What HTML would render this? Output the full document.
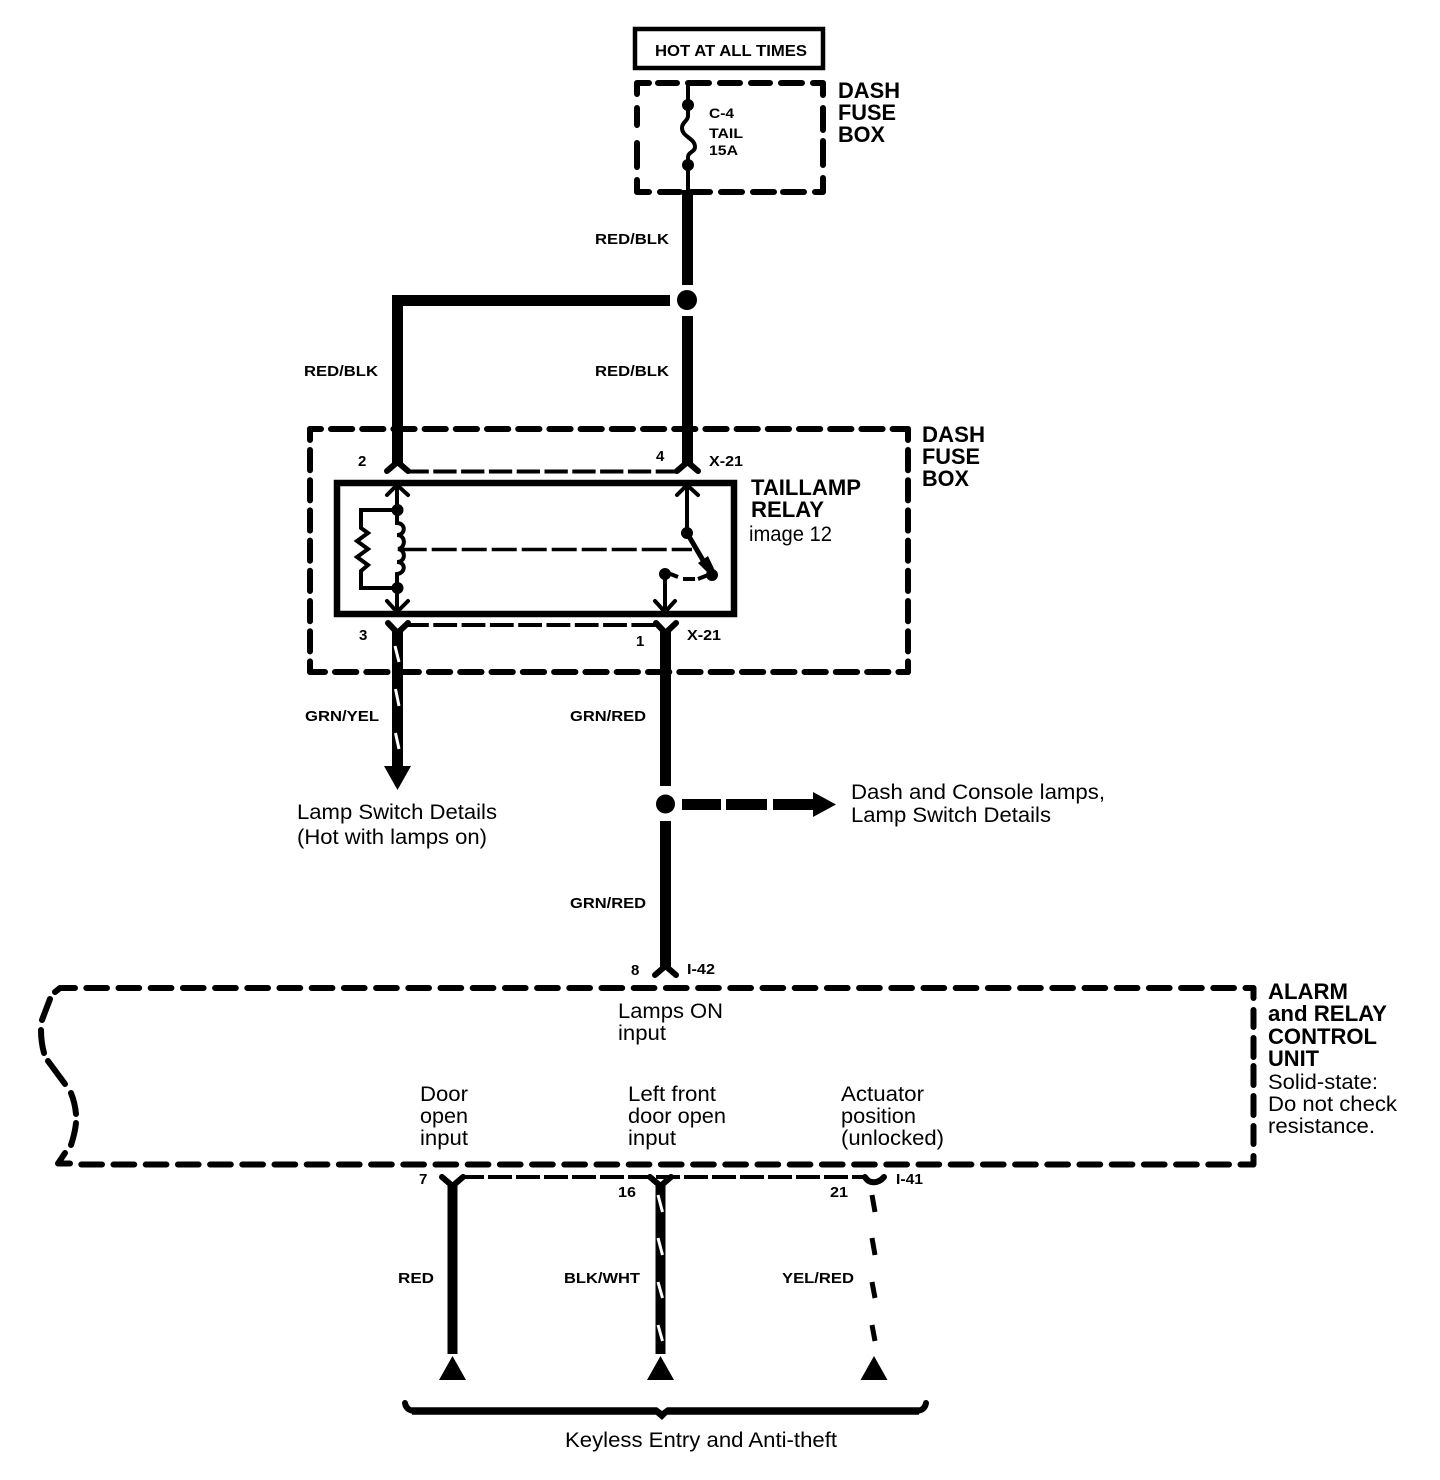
<!DOCTYPE html>
<html><head><meta charset="utf-8"><title>Taillamp relay diagram</title>
<style>
html,body{margin:0;padding:0;background:#fff}
svg{display:block}
text{font-family:"Liberation Sans",sans-serif;fill:#000}
.b{font-weight:bold}
.s{font-size:15px;font-weight:bold}
.t{font-size:22px;font-weight:bold}
.r{font-size:21px}
.seg{fill:none;stroke:#000;stroke-width:6;stroke-linecap:round;stroke-linejoin:round}
.thin{fill:none;stroke:#000;stroke-width:4}
.w{stroke:#000;stroke-width:11;fill:none}
.sl{stroke:#fff;stroke-width:3;fill:none}
.c{fill:none;stroke:#000;stroke-width:6;stroke-linecap:round;stroke-linejoin:miter}
.d{fill:none;stroke:#000;stroke-width:4}
</style></head><body>
<svg width="1440" height="1480" viewBox="0 0 1440 1480" xmlns="http://www.w3.org/2000/svg">
<rect width="1440" height="1480" fill="#fff"/>

<rect x="635" y="29" width="188" height="39" fill="none" stroke="#000" stroke-width="4.500"/>
<text class="b" font-size="16" x="655" y="56" textLength="152" lengthAdjust="spacingAndGlyphs">HOT AT ALL TIMES</text>

<path class="seg" d="M637 94V83H649M658 83H677M688 83H709M720 83H740M751 83H770M781 83H802M813 83H823V95"/>
<path class="seg" d="M637 180V192H649M660 192H680M691 192H710M721 192H742M753 192H774M783 192H804M815 192H823V178"/>
<path class="seg" d="M637 108V125M637 143V167M823 108V130M823 141V165"/>
<path class="thin" d="M688 84V116C688 121 682 122 682 128C682 137 695 138 695 147C695 152 688 152 688 157V192"/>
<circle cx="688" cy="105" r="6"/><circle cx="688" cy="165" r="6"/>
<text class="b" font-size="14" x="709" y="118" textLength="25" lengthAdjust="spacingAndGlyphs">C-4</text>
<text class="b" font-size="14" x="709" y="138" textLength="34" lengthAdjust="spacingAndGlyphs">TAIL</text>
<text class="b" font-size="14" x="709" y="155" textLength="29" lengthAdjust="spacingAndGlyphs">15A</text>
<text class="t" x="838" y="98" textLength="62" lengthAdjust="spacingAndGlyphs">DASH</text>
<text class="t" x="838" y="120" textLength="58" lengthAdjust="spacingAndGlyphs">FUSE</text>
<text class="t" x="838" y="142" textLength="47" lengthAdjust="spacingAndGlyphs">BOX</text>

<path class="w" d="M687.500 190V285"/>
<circle cx="687" cy="300" r="10"/>
<path class="w" d="M670 300.500H397.500V464"/>
<path class="w" d="M687.500 316V464"/>
<text class="s" x="595" y="244" textLength="74" lengthAdjust="spacingAndGlyphs">RED/BLK</text>
<text class="s" x="304" y="376" textLength="74" lengthAdjust="spacingAndGlyphs">RED/BLK</text>
<text class="s" x="595" y="376" textLength="74" lengthAdjust="spacingAndGlyphs">RED/BLK</text>

<path class="seg" stroke-dasharray="21.200 10" stroke-dashoffset="10.200" d="M310 429H908"/>
<path class="seg" stroke-dasharray="21.300 10" stroke-dashoffset="6.300" d="M310 672H908"/>
<path class="seg" stroke-dasharray="20.200 10" stroke-dashoffset="9.200" d="M310 429V672"/>
<path class="seg" stroke-dasharray="20.200 10" stroke-dashoffset="9.200" d="M908 429V672"/>
<text class="t" x="922" y="442" textLength="63" lengthAdjust="spacingAndGlyphs">DASH</text>
<text class="t" x="922" y="464" textLength="58" lengthAdjust="spacingAndGlyphs">FUSE</text>
<text class="t" x="922" y="486" textLength="47" lengthAdjust="spacingAndGlyphs">BOX</text>

<path class="c" d="M387 471L397.500 462L408 471"/>
<path class="c" d="M677 471L687.500 462L698 471"/>
<path class="d" stroke-dasharray="23.300 4.500" stroke-dashoffset="2.500" d="M408 471.500H678"/>
<text class="s" x="358" y="466">2</text>
<text class="s" x="656" y="461">4</text>
<text class="s" x="709" y="466" textLength="34" lengthAdjust="spacingAndGlyphs">X-21</text>

<rect x="337" y="483" width="397" height="131" fill="none" stroke="#000" stroke-width="6.500"/>
<text class="t" x="751" y="495" textLength="110" lengthAdjust="spacingAndGlyphs">TAILLAMP</text>
<text class="t" x="751" y="517" textLength="73" lengthAdjust="spacingAndGlyphs">RELAY</text>
<text class="r" x="749" y="541" textLength="83" lengthAdjust="spacingAndGlyphs">image 12</text>

<path class="thin" d="M397 486V522"/>
<path class="thin" stroke-linecap="round" d="M387 495L397 485L408 495"/>
<circle cx="397.500" cy="510" r="6"/><circle cx="397.500" cy="588" r="6"/>
<path class="thin" d="M397 518V523C406 523 406 535 397 535C406 535 406 548 398 549C406 550 406 562 397 562C406 562 406 573 397 574V610"/>
<path class="thin" stroke-linecap="round" d="M387 601L397 612L408 601"/>
<path class="thin" d="M397 510H361V528L368 533L357 541L368 549L357 557L368 565L361 571V588H397"/>
<path fill="none" stroke="#000" stroke-width="3.500" stroke-dasharray="25 5" stroke-dashoffset="1.300" d="M403 549.500H692"/>

<path class="thin" d="M687 486V530"/>
<path class="thin" stroke-linecap="round" d="M677 495L687 485L698 495"/>
<circle cx="687" cy="533" r="6"/>
<path fill="none" stroke="#000" stroke-width="5" d="M687 533L711 574"/>
<path d="M698 563L708 556L717 575H710Z"/>
<circle cx="712" cy="575" r="6"/>
<circle cx="665" cy="574" r="6"/>
<path class="thin" d="M665 575V610"/>
<path class="thin" stroke-linecap="round" d="M655 601L665 612L675 601"/>
<path fill="none" stroke="#000" stroke-width="4" d="M668 573L678 577M683 579H695M698 579L708 575"/>

<path class="c" d="M388 623L397.500 633L408 623"/>
<path class="c" d="M656 623L665.500 633L676 623"/>
<path class="d" stroke-dasharray="23.800 4.500" stroke-dashoffset="3" d="M408 625H656"/>
<text class="s" x="359" y="640">3</text>
<text class="s" x="636" y="646">1</text>
<text class="s" x="687" y="640" textLength="34" lengthAdjust="spacingAndGlyphs">X-21</text>

<path class="w" d="M397.500 630V770"/>
<path class="sl" d="M395 646L399 662M395.500 689L399 706M395.500 733L399 749"/>
<path d="M384 766H411L397.500 790Z"/>
<text class="s" x="305" y="721" textLength="74" lengthAdjust="spacingAndGlyphs">GRN/YEL</text>
<text class="r" x="297" y="819" textLength="200" lengthAdjust="spacingAndGlyphs">Lamp Switch Details</text>
<text class="r" x="297" y="844" textLength="190" lengthAdjust="spacingAndGlyphs">(Hot with lamps on)</text>

<path class="w" d="M665.500 630V786"/>
<circle cx="665.500" cy="804" r="9.500"/>
<path class="w" d="M665.500 821V968"/>
<path fill="none" stroke="#000" stroke-width="11" d="M682 804.500H721M726 804.500H767M773 804.500H815"/>
<path d="M813 792L836 804.500L813 817Z"/>
<text class="s" x="570" y="721" textLength="76" lengthAdjust="spacingAndGlyphs">GRN/RED</text>
<text class="s" x="570" y="908" textLength="76" lengthAdjust="spacingAndGlyphs">GRN/RED</text>
<text class="r" x="851" y="799" textLength="254" lengthAdjust="spacingAndGlyphs">Dash and Console lamps,</text>
<text class="r" x="851" y="822" textLength="200" lengthAdjust="spacingAndGlyphs">Lamp Switch Details</text>

<path class="c" d="M655 975L665.500 966L676 975"/>
<text class="s" x="631" y="975">8</text>
<text class="s" x="687" y="974" textLength="28" lengthAdjust="spacingAndGlyphs">I-42</text>

<path class="seg" stroke-dasharray="20.700 11.500" d="M86.300 988H1253"/>
<path class="seg" stroke-dasharray="20.700 11.500" d="M81.300 1164.500H1253"/>
<path class="seg" d="M1253.500 988V998M1253.500 1010V1027M1253.500 1038V1057M1253.500 1066V1085M1253.500 1096V1115M1253.500 1126V1144M1253.500 1156V1164.500"/>
<path class="seg" d="M75 988H60L55 992M50 999L42 1020M41 1030Q41 1042 44 1053M48 1061L65 1084M71 1093Q75 1103 76 1114M76 1123Q75 1133 71 1145M65 1153L58 1163.500H70"/>
<text class="r" x="618" y="1018" textLength="105" lengthAdjust="spacingAndGlyphs">Lamps ON</text>
<text class="r" x="618" y="1040" textLength="48" lengthAdjust="spacingAndGlyphs">input</text>
<text class="r" x="420" y="1101" textLength="48" lengthAdjust="spacingAndGlyphs">Door</text>
<text class="r" x="420" y="1123" textLength="48" lengthAdjust="spacingAndGlyphs">open</text>
<text class="r" x="420" y="1145" textLength="48" lengthAdjust="spacingAndGlyphs">input</text>
<text class="r" x="628" y="1101" textLength="88" lengthAdjust="spacingAndGlyphs">Left front</text>
<text class="r" x="628" y="1123" textLength="98" lengthAdjust="spacingAndGlyphs">door open</text>
<text class="r" x="628" y="1145" textLength="48" lengthAdjust="spacingAndGlyphs">input</text>
<text class="r" x="841" y="1101" textLength="83" lengthAdjust="spacingAndGlyphs">Actuator</text>
<text class="r" x="841" y="1123" textLength="75" lengthAdjust="spacingAndGlyphs">position</text>
<text class="r" x="841" y="1145" textLength="103" lengthAdjust="spacingAndGlyphs">(unlocked)</text>
<text class="t" x="1268" y="999" textLength="80" lengthAdjust="spacingAndGlyphs">ALARM</text>
<text class="t" x="1268" y="1021" textLength="119" lengthAdjust="spacingAndGlyphs">and RELAY</text>
<text class="t" x="1268" y="1044" textLength="109" lengthAdjust="spacingAndGlyphs">CONTROL</text>
<text class="t" x="1268" y="1066" textLength="51" lengthAdjust="spacingAndGlyphs">UNIT</text>
<text class="r" x="1268" y="1089" textLength="110" lengthAdjust="spacingAndGlyphs">Solid-state:</text>
<text class="r" x="1268" y="1111" textLength="129" lengthAdjust="spacingAndGlyphs">Do not check</text>
<text class="r" x="1268" y="1133" textLength="107" lengthAdjust="spacingAndGlyphs">resistance.</text>

<path class="c" d="M442 1177L452.500 1186L463 1177"/>
<path class="c" d="M650 1177L660.500 1186L671 1177"/>
<path class="c" d="M865 1177C869 1184 878 1184 884 1177"/>
<path class="d" stroke-dasharray="24 4" stroke-dashoffset="3" d="M463 1177H866"/>
<path fill="none" stroke="#000" stroke-width="10" d="M452.500 1184V1354"/>
<path fill="none" stroke="#000" stroke-width="10" d="M660.500 1184V1354"/>
<path class="sl" d="M658 1195L662.500 1212M658 1238L662.500 1255M658 1282L662.500 1298M658 1325L662.500 1341"/>
<path fill="none" stroke="#000" stroke-width="5" d="M872 1195L875 1212M872 1238L875 1255M872 1282L875 1298M872 1325L875 1341"/>
<path d="M452.500 1356L466 1380H439Z"/>
<path d="M660.500 1356L674 1380H647Z"/>
<path d="M874 1356L887.500 1380H860.500Z"/>
<text class="s" x="419" y="1184">7</text>
<text class="s" x="618" y="1197" textLength="18" lengthAdjust="spacingAndGlyphs">16</text>
<text class="s" x="830" y="1197" textLength="18" lengthAdjust="spacingAndGlyphs">21</text>
<text class="s" x="896" y="1184" textLength="27" lengthAdjust="spacingAndGlyphs">I-41</text>
<text class="s" x="398" y="1283" textLength="36" lengthAdjust="spacingAndGlyphs">RED</text>
<text class="s" x="564" y="1283" textLength="76" lengthAdjust="spacingAndGlyphs">BLK/WHT</text>
<text class="s" x="782" y="1283" textLength="72" lengthAdjust="spacingAndGlyphs">YEL/RED</text>

<path fill="none" stroke="#000" stroke-width="6" stroke-linecap="round" d="M405 1403Q406 1410 414 1411M926 1403Q925 1410 917 1411"/>
<path fill="none" stroke="#000" stroke-width="7.500" d="M412 1411H919"/>
<path d="M655 1414L662 1420L668 1414Z"/>
<path d="M656 1406.500L662 1411L668 1406.500Z" fill="#fff"/>
<text class="r" x="565" y="1447" textLength="272" lengthAdjust="spacingAndGlyphs">Keyless Entry and Anti-theft</text>
</svg>
</body></html>
